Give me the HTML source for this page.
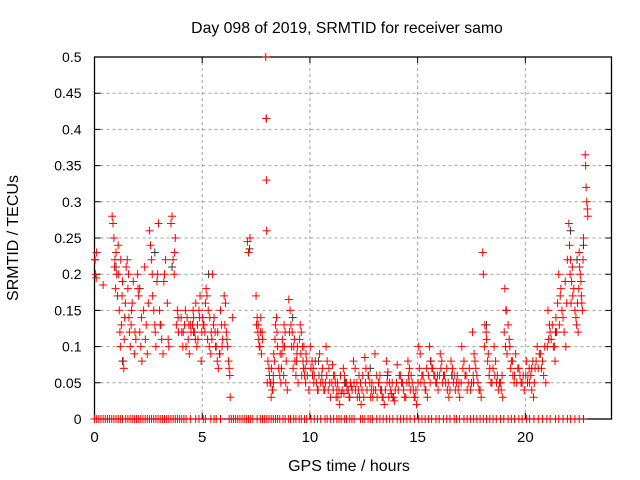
<!DOCTYPE html>
<html><head><meta charset="utf-8"><style>
body{margin:0;background:#fff}
svg{display:block;font-family:"Liberation Sans",sans-serif}
</style></head><body>
<svg id="chart" width="640" height="480" viewBox="0 0 640 480">
<rect width="640" height="480" fill="#fff"/>
<text x="347" y="33" font-size="15.8" text-anchor="middle" fill="#000">Day 098 of 2019, SRMTID for receiver samo</text>
<g id="grid"></g>
<g id="axes"></g>
<g id="black"></g>
<g id="red"></g>
<text x="349" y="471" font-size="16" text-anchor="middle">GPS time / hours</text>
<text transform="translate(18,238) rotate(-90)" font-size="16" text-anchor="middle">SRMTID / TECUs</text>
</svg>
<script>
const xTicks=[0,5,10,15,20];
const yTicks=[0,0.05,0.1,0.15,0.2,0.25,0.3,0.35,0.4,0.45,0.5];
const yTickLabels=["0","0.05","0.1","0.15","0.2","0.25","0.3","0.35","0.4","0.45","0.5"];
const times=[0.02,0.05,0.08,0.1,0.4,
0.82,0.86,0.9,0.93,0.95,0.98,1.0,1.03,
1.1,1.12,1.15,1.18,1.2,1.25,1.28,1.3,1.33,1.36,1.4,1.43,1.47,
1.52,1.55,1.6,1.62,1.66,1.7,1.75,1.8,1.85,1.92,
2.0,2.05,2.1,2.15,2.2,2.28,2.33,2.4,2.45,
2.55,2.6,2.65,2.7,2.75,2.8,2.85,2.9,2.93,2.97,
3.02,3.08,3.12,3.18,3.25,3.3,3.38,3.45,
3.55,3.6,3.65,3.7,3.75,3.8,3.85,3.9,
4.05,4.1,4.18,4.22,4.3,4.35,4.4,4.45,
4.55,4.6,4.65,4.7,4.75,4.8,4.85,4.9,4.95,
5.02,5.08,5.12,5.18,5.22,5.28,5.33,5.4,5.45,5.48,
5.55,5.6,5.65,5.7,5.75,5.8,5.85,5.9,5.95,
6.02,6.08,6.12,6.18,6.22,6.28,6.3,6.4,
7.1,7.15,7.22,
7.5,7.55,7.6,7.65,7.7,7.75,7.8,
7.95,7.97,7.98,7.99,8.02,8.05,8.1,
8.15,8.2,8.25,8.3,8.35,8.4,8.45,8.47,8.5,
8.55,8.6,8.65,8.7,8.75,8.8,8.85,8.9,8.95,
9.02,9.08,9.12,9.18,9.25,9.3,9.35,9.4,9.45,
9.55,9.6,9.65,9.7,9.75,9.8,9.85,9.95,
10.02,10.1,10.15,10.2,10.3,10.38,10.45,
10.55,10.6,10.68,10.75,10.8,10.88,10.95,
11.05,11.1,11.18,11.25,11.3,11.38,11.45,
11.55,11.6,11.7,11.78,11.85,11.92,
12.02,12.1,12.18,12.25,12.3,12.38,12.45,
12.55,12.6,12.7,12.78,12.85,12.92,
13.02,13.1,13.2,13.28,13.35,13.45,
13.55,13.62,13.7,13.78,13.85,13.92,
14.05,14.15,14.25,14.35,14.45,
14.55,14.62,14.7,14.8,14.88,14.95,
15.05,15.12,15.2,15.3,15.38,15.45,
15.55,15.62,15.7,15.8,15.88,15.95,
16.05,16.12,16.2,16.3,16.38,16.45,
16.55,16.62,16.7,16.8,16.88,16.95,
17.05,17.15,17.25,17.35,17.45,
17.55,17.62,17.7,17.8,17.9,17.95,
18.02,18.05,18.12,18.2,18.28,18.35,18.45,
18.55,18.62,18.7,18.8,18.88,18.95,
19.05,19.12,19.2,19.28,19.35,19.42,19.48,
19.55,19.65,19.75,19.85,19.95,
20.05,20.12,20.2,20.3,20.38,20.45,
20.55,20.65,20.75,20.85,20.95,
21.05,21.12,21.2,21.3,21.38,21.45,
21.55,21.62,21.7,21.8,21.88,21.95,
22.02,22.05,22.1,22.15,22.2,22.3,22.38,22.45,
22.5,22.55,22.6,22.65,22.7,
22.78,22.8,22.82,22.85,22.88,22.9];
const values=[0.22,0.2,0.195,0.23,0.185,
0.28,0.27,0.25,0.21,0.22,0.18,0.23,0.2,
0.24,0.2,0.15,0.12,0.1,0.13,0.17,0.19,0.08,0.07,0.14,0.16,0.21,
0.22,0.18,0.14,0.12,0.1,0.13,0.16,0.19,0.09,0.11,
0.2,0.17,0.12,0.1,0.08,0.15,0.21,0.13,0.09,
0.26,0.24,0.22,0.17,0.15,0.13,0.1,0.19,0.2,0.27,
0.15,0.13,0.11,0.09,0.2,0.22,0.16,0.1,
0.27,0.28,0.22,0.2,0.25,0.13,0.15,0.12,
0.12,0.1,0.13,0.15,0.14,0.11,0.09,0.13,
0.13,0.14,0.12,0.16,0.1,0.11,0.15,0.17,0.08,
0.14,0.13,0.12,0.18,0.17,0.15,0.1,0.09,0.11,0.2,
0.14,0.12,0.1,0.08,0.07,0.09,0.15,0.13,0.11,
0.17,0.16,0.12,0.1,0.08,0.06,0.03,0.14,
0.245,0.23,0.25,
0.17,0.14,0.13,0.1,0.12,0.09,0.11,
0.5,0.415,0.33,0.26,0.05,0.08,0.07,
0.05,0.03,0.04,0.06,0.08,0.13,0.14,0.12,0.1,
0.07,0.06,0.05,0.09,0.1,0.13,0.12,0.08,0.04,
0.165,0.15,0.13,0.12,0.1,0.08,0.06,0.09,0.05,
0.13,0.12,0.1,0.07,0.06,0.05,0.08,0.04,
0.1,0.08,0.07,0.06,0.05,0.04,0.09,
0.06,0.05,0.04,0.1,0.08,0.07,0.03,
0.075,0.06,0.05,0.04,0.03,0.02,0.035,
0.07,0.06,0.05,0.04,0.03,0.045,
0.08,0.07,0.05,0.04,0.03,0.02,0.06,
0.085,0.07,0.06,0.05,0.04,0.03,
0.09,0.06,0.05,0.04,0.03,0.02,
0.08,0.065,0.05,0.035,0.03,0.025,
0.075,0.06,0.05,0.04,0.03,
0.08,0.07,0.06,0.04,0.03,0.02,
0.1,0.09,0.06,0.05,0.04,0.03,
0.1,0.08,0.07,0.06,0.05,0.04,
0.09,0.08,0.06,0.05,0.04,0.03,
0.08,0.07,0.06,0.05,0.04,0.03,
0.1,0.08,0.06,0.05,0.04,
0.12,0.09,0.07,0.05,0.04,0.03,
0.23,0.2,0.13,0.11,0.09,0.07,0.05,
0.1,0.08,0.06,0.05,0.04,0.03,
0.18,0.15,0.13,0.1,0.08,0.06,0.05,
0.09,0.07,0.06,0.05,0.04,
0.08,0.06,0.05,0.04,0.03,0.07,
0.1,0.09,0.07,0.06,0.05,
0.15,0.13,0.11,0.1,0.08,0.12,
0.2,0.17,0.15,0.12,0.1,0.22,
0.27,0.24,0.22,0.19,0.17,0.15,0.13,0.12,
0.23,0.2,0.17,0.15,0.25,
0.365,0.35,0.32,0.3,0.29,0.28];
const times2=[1.07,1.22,1.38,1.58,1.72,1.88,2.02,2.18,2.36,2.5,2.68,2.82,3.05,3.22,3.42,3.72,3.88,
4.02,4.12,4.25,4.38,4.48,4.58,4.68,4.78,4.88,4.98,5.05,5.15,5.25,5.35,5.42,5.52,5.62,5.72,5.82,5.92,6.05,6.15,6.25,
7.52,7.58,7.62,7.68,7.72,7.78,8.12,8.18,8.22,8.28,8.32,8.38,8.62,8.68,8.72,8.78,8.82,8.88,9.05,9.15,9.22,9.28,9.38,9.42,9.52,9.58,9.62,9.68,9.72,9.78,9.82,9.88,
10.05,10.12,10.18,10.25,10.35,10.42,10.5,10.58,10.65,10.72,10.78,10.85,10.92,11.02,11.08,11.15,11.22,11.28,11.35,11.42,11.5,11.58,11.65,11.72,11.82,11.88,11.96,
12.05,12.12,12.2,12.28,12.35,12.42,12.5,12.58,12.65,12.72,12.82,12.88,12.96,13.05,13.12,13.18,13.25,13.32,13.4,13.5,13.58,13.66,13.75,13.82,13.88,13.96,
14.02,14.1,14.2,14.3,14.4,14.5,14.58,14.66,14.75,14.84,14.92,15.02,15.08,15.15,15.25,15.35,15.42,15.5,15.58,15.66,15.75,15.84,15.92,
16.02,16.08,16.15,16.25,16.35,16.42,16.5,16.58,16.66,16.75,16.84,16.92,17.02,17.1,17.2,17.3,17.4,17.5,17.58,17.66,17.75,17.85,
18.1,18.18,18.25,18.32,18.4,18.5,18.58,18.66,18.75,18.85,18.92,19.02,19.08,19.15,19.25,19.32,19.4,19.5,19.6,19.7,19.8,19.9,
20.02,20.1,20.18,20.25,20.35,20.42,20.5,20.6,20.7,20.8,20.9,21.02,21.08,21.15,21.25,21.35,21.42,21.5,21.58,21.65,21.75,21.85,21.92,
22.08,22.12,22.18,22.25,22.35,22.42,22.48,22.52,22.58,22.62,22.68];
const values2=[0.17,0.22,0.11,0.2,0.15,0.12,0.18,0.14,0.11,0.16,0.2,0.12,0.13,0.19,0.11,0.23,0.14,
0.14,0.12,0.1,0.13,0.12,0.15,0.11,0.13,0.14,0.12,0.13,0.16,0.11,0.14,0.12,0.13,0.1,0.12,0.09,0.1,0.13,0.11,0.07,
0.13,0.12,0.11,0.1,0.14,0.12,0.06,0.05,0.07,0.04,0.09,0.11,0.09,0.07,0.11,0.06,0.1,0.05,0.12,0.1,0.07,0.11,0.08,0.1,0.11,0.09,0.06,0.08,0.1,0.07,0.09,0.06,
0.07,0.06,0.05,0.08,0.04,0.06,0.05,0.07,0.04,0.05,0.06,0.04,0.05,0.05,0.04,0.06,0.03,0.05,0.04,0.06,0.04,0.035,0.05,0.04,0.03,0.05,0.04,
0.05,0.04,0.03,0.06,0.05,0.04,0.03,0.05,0.04,0.06,0.03,0.05,0.04,0.04,0.03,0.05,0.06,0.04,0.03,0.04,0.05,0.03,0.04,0.05,0.03,0.04,
0.05,0.04,0.06,0.05,0.03,0.05,0.06,0.04,0.05,0.03,0.04,0.05,0.07,0.05,0.06,0.04,0.07,0.06,0.05,0.07,0.06,0.05,0.06,
0.06,0.07,0.05,0.06,0.07,0.05,0.04,0.06,0.05,0.04,0.06,0.05,0.05,0.07,0.06,0.04,0.07,0.05,0.06,0.08,0.06,0.04,
0.1,0.12,0.08,0.06,0.05,0.07,0.06,0.05,0.04,0.05,0.06,0.12,0.1,0.09,0.11,0.07,0.08,0.06,0.05,0.07,0.05,0.06,
0.06,0.05,0.07,0.06,0.08,0.05,0.08,0.07,0.09,0.08,0.1,0.1,0.11,0.12,0.13,0.1,0.14,0.16,0.13,0.18,0.14,0.19,0.16,
0.2,0.16,0.21,0.18,0.14,0.16,0.18,0.21,0.19,0.16,0.22];
const blackTimes=[0.03,1.0,1.3,2.1,2.8,3.6,4.6,5.3,7.2,7.98,8.3,9.2,10.4,11.6,12.8,13.6,14.6,15.6,16.6,17.6,18.2,19.1,20.3,21.4,22.1,22.4,22.7];
const blackValues=[0.22,0.21,0.08,0.18,0.23,0.21,0.12,0.2,0.235,0.415,0.05,0.14,0.08,0.05,0.07,0.06,0.05,0.08,0.06,0.05,0.13,0.15,0.07,0.12,0.26,0.22,0.24];
const zeroTimes=[0,0.1,0.2,0.3,0.4,0.5,0.6,0.7,0.8,0.9,1.0,1.1,1.2,1.3,1.45,1.55,1.65,1.75,1.85,1.95,2.05,2.15,2.25,2.35,2.45,2.55,2.65,2.75,2.85,2.95,3.05,3.15,3.25,3.35,3.45,3.55,3.65,3.75,3.85,3.95,4.05,4.15,4.25,4.45,4.7,4.85,5.05,5.15,5.4,5.55,5.65,5.85,6.25,6.35,6.45,6.55,6.65,6.75,6.85,6.95,7.05,7.15,7.25,7.35,7.55,7.7,7.8,7.9,8.0,8.1,8.2,8.3,8.4,8.5,8.6,8.75,8.85,9.0,9.1,9.25,9.35,9.5,9.6,9.75,9.85,10.05,10.2,10.35,10.5,10.7,10.8,10.95,11.1,11.25,11.35,11.45,11.6,11.7,11.85,11.95,12.05,12.35,12.45,12.55,12.7,12.8,12.9,13.1,13.25,13.4,13.55,13.7,13.85,14.05,14.2,14.35,14.5,14.65,14.85,15.05,15.2,15.35,15.5,15.65,15.85,16.0,16.2,16.35,16.5,16.7,16.8,16.95,17.15,17.3,17.45,17.6,17.75,17.9,18.05,18.2,18.35,18.5,18.65,18.85,19.0,19.2,19.35,19.5,19.7,19.85,20.05,20.2,20.4,20.6,20.8,21.0,21.15,21.4,21.55,21.75,21.95,22.1,22.3,22.5,22.7];

const X0=94.5,X1=611.5,Y0=419,Y1=57;
function sx(t){return X0+(t/24)*(X1-X0);}
function sy(v){return Y0-(v/0.5)*(Y0-Y1);}
const NS="http://www.w3.org/2000/svg";
function mk(tag,attrs,parent){const e=document.createElementNS(NS,tag);for(const k in attrs)e.setAttribute(k,attrs[k]);parent.appendChild(e);return e;}
const grid=document.getElementById('grid'),axes=document.getElementById('axes');
xTicks.forEach(t=>{
  const x=sx(t);
  if(t>0){const g=mk('line',{x1:x,y1:Y0,x2:x,y2:Y1,stroke:'#a0a0a0','stroke-dasharray':'3,3','stroke-width':1},grid);
  
  }
  const tk=mk('path',{d:`M${x},${Y0}v-6M${x},${Y1}v6`,stroke:'#000'},axes);
  
  
  const lb=mk('text',{x:x,y:Y0+23,'font-size':15,'text-anchor':'middle'},axes);
  lb.textContent=String(t);
  
  
});
yTicks.forEach((v,i)=>{
  const y=sy(v);
  if(v>0&&v<0.5){const g=mk('line',{x1:X0,y1:y,x2:X1,y2:y,stroke:'#a0a0a0','stroke-dasharray':'3,3','stroke-width':1},grid);
  
  }
  const tk=mk('path',{d:`M${X0},${y}h6M${X1},${y}h-6`,stroke:'#000'},axes);
  
  
  const lb=mk('text',{x:X0-13,y:y+5,'font-size':14,'text-anchor':'end'},axes);
  lb.textContent=yTickLabels[i];
  
  
});
const fr=mk('rect',{x:X0,y:Y1,width:X1-X0,height:Y0-Y1,fill:'none',stroke:'#000','stroke-width':1.3},axes);


function plus(g,t,v,col){
  const x=sx(t),y=sy(v);
  const p=mk('path',{d:`M${x-4},${y}h8M${x},${y-4}v8`,stroke:col,'stroke-width':1},g);
  
  
}
const bg=document.getElementById('black'),rg=document.getElementById('red');
blackTimes.forEach((t,i)=>plus(bg,t,blackValues[i],'#333'));
zeroTimes.forEach(t=>plus(rg,t,0,'#ff0000'));
times.forEach((t,i)=>plus(rg,t,values[i],'#ff0000'));
times2.forEach((t,i)=>plus(rg,t,values2[i],'#ff0000'));
</script>
</body></html>
